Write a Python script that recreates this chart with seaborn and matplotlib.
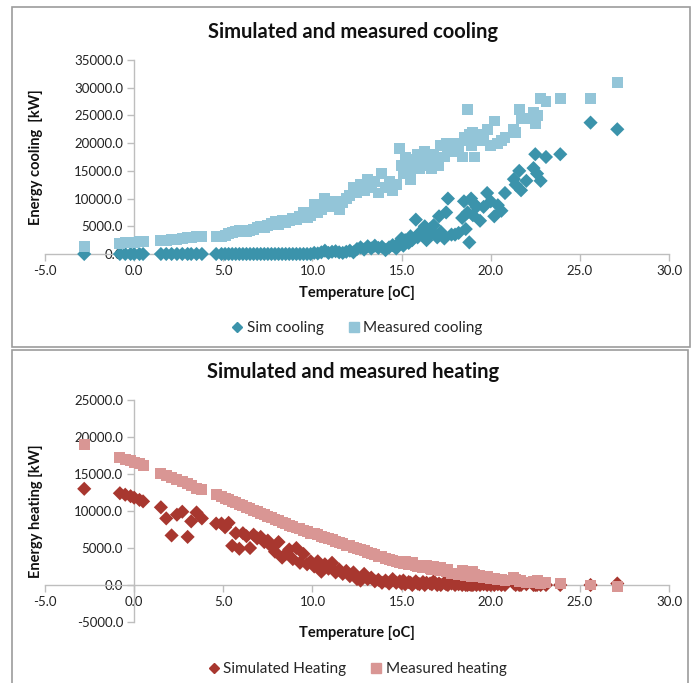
import numpy as np
import pandas as pd
import matplotlib
matplotlib.use("Agg")
import matplotlib.pyplot as plt
import seaborn as sns
from matplotlib.patches import Rectangle
from matplotlib.lines import Line2D
from matplotlib.ticker import MultipleLocator, StrMethodFormatter

# Temperatura diaria [oC]
temperatura = [
    -2.8,
    -0.8, -0.5, -0.2, 0.0, 0.3, 0.5,
    1.5, 1.8, 2.1, 2.4, 2.7, 3.0, 3.2, 3.5, 3.8,
    4.6, 4.9, 5.1, 5.3, 5.5, 5.7, 5.9, 6.1, 6.3, 6.5, 6.7, 6.9, 7.1, 7.3,
    7.5, 7.7, 7.9, 8.1, 8.3, 8.5, 8.7, 8.9, 9.1, 9.3, 9.5, 9.7, 9.9,
    10.1, 10.3, 10.5, 10.7, 10.9, 11.1, 11.3, 11.5, 11.7, 11.9, 12.1, 12.3, 12.5,
    12.7, 12.9, 13.1, 13.3, 13.5, 13.7, 13.9, 14.1, 14.3, 14.5, 14.7, 14.9,
    15.0, 15.1, 15.2, 15.4, 15.5, 15.6, 15.8, 15.9, 16.0, 16.2, 16.3, 16.4, 16.6,
    16.7, 16.8, 17.0, 17.1, 17.2, 17.4, 17.5, 17.6, 17.8, 18.0, 18.2, 18.4, 18.5,
    18.6, 18.7, 18.8, 18.9, 19.0, 19.1, 19.2, 19.4, 19.6, 19.8, 20.0,
    20.2, 20.4, 20.6, 20.8, 21.3, 21.4, 21.6, 21.7, 22.0, 22.4, 22.5, 22.6, 22.8, 23.1,
    23.9, 25.6, 27.1,
]

sim_cooling = [
    0,
    0, 0, 0, 0, 0, 0,
    0, 0, 0, 0, 0, 0, 0, 0, 0,
    0, 0, 0, 0, 0, 0, 0, 0, 0, 0, 0, 0, 0, 0,
    0, 0, 0, 0, 0, 0, 0, 0, 0, 0, 0, 0, 0,
    200, 100, 300, 600, 200, 400, 500, 300, 200, 400, 600, 300, 900,
    1200, 800, 1400, 1000, 1500, 1100, 1300, 700, 1200, 1600, 1000, 2200,
    2800, 1500, 2500, 2000, 3200, 2500, 6200, 3000, 3800, 3500, 5000, 2500, 4500,
    3800, 5200, 3000, 6800, 4000, 2800, 7500, 10000, 3500, 3500, 3800, 6500, 9500,
    4500, 7500, 2100, 10000, 7000, 9000, 8500, 6000, 8500, 11000, 9500,
    6800, 8800, 7800, 11000, 13500, 12500, 15000, 11500, 13200, 15500, 18000, 14500, 13200, 17500,
    18000, 23700, 22500,
]

measured_cooling = [
    1400,
    1900, 2000, 2100, 2100, 2200, 2300,
    2400, 2500, 2600, 2700, 2800, 2900, 3000, 3100, 3100,
    3100, 3200, 3400, 3700, 3900, 4100, 4300, 4200, 4100, 4300, 4500, 4800, 5000, 4700,
    5200, 5500, 5800, 5400, 6000, 5700, 6100, 6500, 6300, 6800, 7500, 6600, 7000,
    9000, 7500, 8000, 10000, 9000, 8500, 9500, 8000, 9200, 10000, 10500, 12000, 11000,
    12500, 11500, 13500, 12000, 13000, 11000, 14500, 12000, 13000, 11500, 12500, 19000,
    16000, 14500, 17500, 15000, 13500, 17000, 16000, 18000, 15500, 17000, 18500, 16000, 17500,
    15500, 18000, 17000, 16000, 19500, 17500, 20000, 18500, 19000, 20000, 18500, 17500, 21000,
    20500, 26000, 21500, 19500, 22000, 17500, 21000, 20500, 21500, 22500, 19500,
    24000, 20000, 20500, 21000, 22500, 22000, 26000, 24500, 24500, 25500, 23500, 25000, 28000, 27500,
    28000, 28000, 31000,
]

sim_heating = [
    13000,
    12400, 12200, 12000, 11800, 11500, 11300,
    10500, 9000, 6700, 9500, 9900, 6500, 8600, 9800, 9000,
    8300, 8300, 7800, 8400, 5300, 7000, 4900, 7000, 6600, 5000, 6800, 6300, 6500, 5800,
    6000, 5200, 4500, 5800, 3700, 4200, 4800, 3500, 5000, 3000, 4200, 2800, 3200,
    2500, 3200, 1800, 2800, 2200, 3000, 1700, 2100, 1500, 1900, 1200, 1700, 800,
    600, 1500, 800, 1000, 500, 700, 300, 600, 200, 800, 300, 500,
    200, 600, 100, 400, 300, 0, 500, 200, 100, 400, 0, 300, 200,
    100, 500, 0, 200, 0, 300, 100, 0, 200, 0, 100, 0, 200,
    0, 0, 100, 0, 0, 200, 0, 0, 100, 0, 0,
    0, 100, 0, 0, 200, 0, 0, 0, 100, 0, 0, 0, 0, 0,
    0, 0, 200,
]

measured_heating = [
    19000,
    17200, 17000, 16800, 16600, 16400, 16200,
    15100, 14800, 14500, 14200, 14000, 13700, 13400, 13100, 12900,
    12200, 12000, 11700, 11500, 11300, 11100, 10900, 10700, 10500, 10300, 10100, 9900, 9700, 9500,
    9300, 9100, 8900, 8700, 8500, 8300, 8100, 7900, 7700, 7600, 7400, 7200, 7000,
    6900, 6800, 6600, 6400, 6300, 6100, 5900, 5800, 5600, 5400, 5300, 5100, 4900,
    4800, 4600, 4400, 4300, 4100, 3900, 3800, 3600, 3500, 3300, 3200, 3000,
    3100, 2900, 3200, 2800, 2700, 3000, 2600, 2500, 2700, 2400, 2300, 2600, 2200,
    2100, 2500, 2300, 1900, 2400, 2000, 1800, 2100, 1600, 1500, 1400, 1900, 1600,
    1300, 1700, 1500, 1200, 1800, 1400, 1100, 1300, 1000, 1200, 900,
    900, 700, 800, 600, 1000, 700, 500, 600, 400, 500, 300, 600, 200, 300,
    200, 0, -200,
]

# Colores estilo Excel
C_SIM_COOL = '#3B93AB'
C_MEAS_COOL = '#93C5D8'
C_SIM_HEAT = '#A8372F'
C_MEAS_HEAT = '#D99694'

df = pd.DataFrame({
    'T': temperatura,
    'sim_cool': sim_cooling,
    'meas_cool': measured_cooling,
    'sim_heat': sim_heating,
    'meas_heat': measured_heating,
})

sns.set_style('white')
plt.rcParams['font.family'] = ['Lato', 'DejaVu Sans']
plt.rcParams['axes.unicode_minus'] = False

W, H = 697, 683
fig = plt.figure(figsize=(W / 100, H / 100), dpi=100)


def ejes_px(x0, x1, ytop, ybot):
    return fig.add_axes([x0 / W, 1 - ybot / H, (x1 - x0) / W, (ybot - ytop) / H])


def formato_ejes(ax, ylim, paso):
    ax.set_xlim(-5, 30)
    ax.set_ylim(*ylim)
    ax.spines['left'].set_position(('data', 0))
    ax.spines['bottom'].set_position(('data', 0))
    ax.spines['right'].set_visible(False)
    ax.spines['top'].set_visible(False)
    for s in ('left', 'bottom'):
        ax.spines[s].set_color('#BEBEBE')
        ax.spines[s].set_linewidth(1.0)
    ax.xaxis.set_major_locator(MultipleLocator(5))
    ax.yaxis.set_major_locator(MultipleLocator(paso))
    ax.xaxis.set_major_formatter(StrMethodFormatter('{x:.1f}'))
    ax.yaxis.set_major_formatter(StrMethodFormatter('{x:.1f}'))
    ax.tick_params(axis='both', which='major', direction='out', length=5, width=1.0,
                   color='#BEBEBE', labelsize=9.5, labelcolor='#222222', pad=3,
                   bottom=True, left=True)
    ax.set_xlabel('')
    ax.set_ylabel('')
    ax.grid(False)
    ax.set_facecolor('none')


def panel(ax, y_sim, y_meas, c_sim, c_meas):
    sns.scatterplot(data=df, x='T', y=y_sim, marker='D', s=52, color=c_sim,
                    edgecolor='none', linewidth=0, ax=ax, legend=False, clip_on=False, zorder=3)
    sns.scatterplot(data=df, x='T', y=y_meas, marker='s', s=62, color=c_meas,
                    edgecolor='none', linewidth=0, ax=ax, legend=False, clip_on=False, zorder=4)


def leyenda(y_px, lab_sim, lab_meas, c_sim, c_meas):
    handles = [
        Line2D([], [], marker='D', color=c_sim, linestyle='none', markersize=5.5),
        Line2D([], [], marker='s', color=c_meas, linestyle='none', markersize=7.5),
    ]
    fig.legend(handles, [lab_sim, lab_meas], loc='center', ncol=2,
               bbox_to_anchor=(357 / W, 1 - y_px / H), frameon=False, fontsize=11,
               handlelength=0.8, handletextpad=0.2, columnspacing=1.6)


# Panel superior: refrigeración
ax1 = ejes_px(45, 669, 60, 254)
panel(ax1, 'sim_cool', 'meas_cool', C_SIM_COOL, C_MEAS_COOL)
formato_ejes(ax1, (0, 35000), 5000)
fig.text(353 / W, 1 - 32 / H, 'Simulated and measured cooling', ha='center', va='center',
         fontsize=14.5, fontweight='bold', color='#111111')
fig.text(357 / W, 1 - 293 / H, 'Temperature [oC]', ha='center', va='center',
         fontsize=10.5, fontweight='bold', color='#111111')
fig.text(36 / W, 1 - 157 / H, 'Energy cooling  [kW]', ha='center', va='center', rotation=90,
         fontsize=10.5, fontweight='bold', color='#111111')
leyenda(328, 'Sim cooling', 'Measured cooling', C_SIM_COOL, C_MEAS_COOL)

# Panel inferior: calefacción
ax2 = ejes_px(45, 669, 400, 622)
panel(ax2, 'sim_heat', 'meas_heat', C_SIM_HEAT, C_MEAS_HEAT)
formato_ejes(ax2, (-5000, 25000), 5000)
fig.text(353 / W, 1 - 372 / H, 'Simulated and measured heating', ha='center', va='center',
         fontsize=14.5, fontweight='bold', color='#111111')
fig.text(357 / W, 1 - 633 / H, 'Temperature [oC]', ha='center', va='center',
         fontsize=10.5, fontweight='bold', color='#111111')
fig.text(36 / W, 1 - 511 / H, 'Energy heating [kW]', ha='center', va='center', rotation=90,
         fontsize=10.5, fontweight='bold', color='#111111')
leyenda(669, 'Simulated Heating', 'Measured heating', C_SIM_HEAT, C_MEAS_HEAT)

# Marcos de cada gráfico
fig.patches.append(Rectangle((12 / W, 1 - 347 / H), (690 - 12) / W, (347 - 7) / H,
                             transform=fig.transFigure, fill=False, edgecolor='#9C9C9C', lw=1.2))
fig.patches.append(Rectangle((12 / W, -0.05), (688 - 12) / W, 1 - 350 / H + 0.05,
                             transform=fig.transFigure, fill=False, edgecolor='#9C9C9C', lw=1.2))

fig.savefig('out.png', dpi=100)
